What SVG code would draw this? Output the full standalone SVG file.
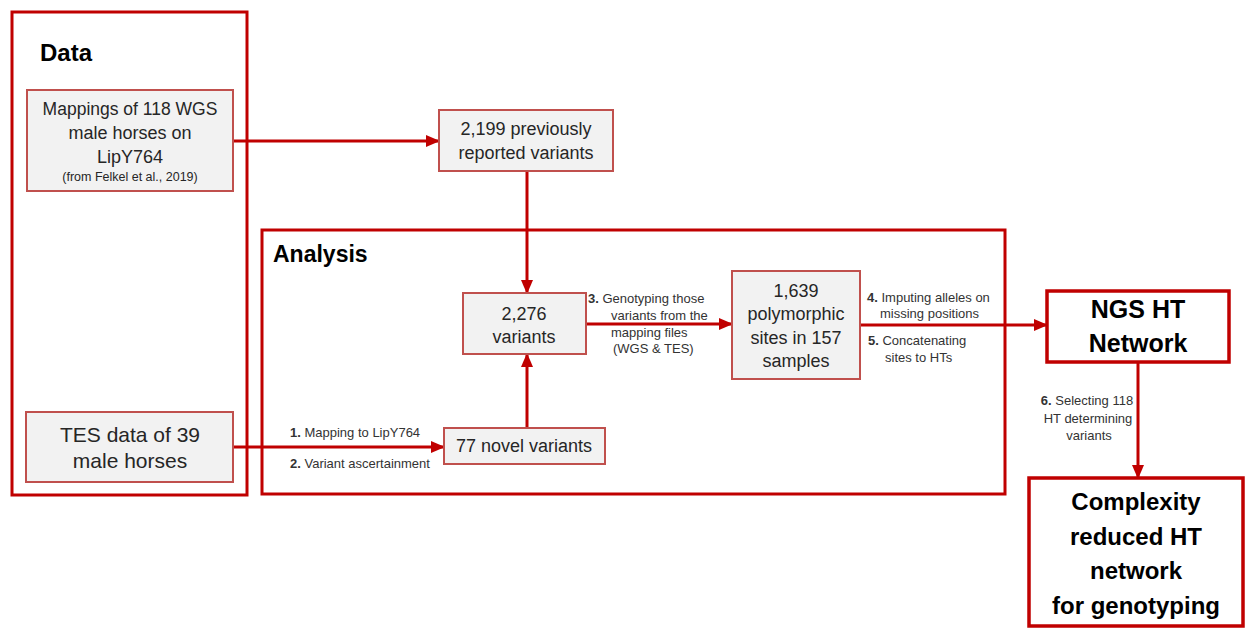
<svg xmlns="http://www.w3.org/2000/svg" width="1245" height="628" viewBox="0 0 1245 628">
<defs>
<style>
.frame{fill:#fff;stroke:#c00000;stroke-width:3}
.node{fill:#f2f2f2;stroke:#c0504d;stroke-width:2}
.big{fill:#fff;stroke:#c00000;stroke-width:3.5}
.t{font-family:"Liberation Sans",Arial,sans-serif;font-size:18px;fill:#262626;text-anchor:middle}
.h{font-family:"Liberation Sans",Arial,sans-serif;font-weight:bold;fill:#000}
.lb{font-family:"Liberation Sans",Arial,sans-serif;font-size:13px;fill:#333}
.lb tspan.n{font-weight:bold}
.c{fill:none;stroke:#c00000;stroke-width:3}
</style>
<marker id="ah" markerUnits="userSpaceOnUse" markerWidth="14" markerHeight="14" viewBox="0 0 14 14" refX="13" refY="7" orient="auto">
<path d="M0,1 L14,7 L0,13 z" fill="#c00000"/>
</marker>
</defs>
<rect width="1245" height="628" fill="#fff"/>

<g id="data-frame">
<rect class="frame" x="12" y="12" width="235" height="483"/>
<text class="h" x="40" y="61" font-size="24">Data</text>
</g>
<g id="analysis-frame">
<rect class="frame" x="262" y="230" width="743" height="264"/>
<text class="h" x="273" y="262" font-size="23">Analysis</text>
</g>

<g id="connectors">
<line class="c" x1="233" y1="141" x2="439" y2="141" marker-end="url(#ah)"/>
<line class="c" x1="527" y1="171" x2="527" y2="293" marker-end="url(#ah)"/>
<line class="c" x1="527" y1="428" x2="527" y2="354" marker-end="url(#ah)"/>
<line class="c" x1="233" y1="447" x2="444" y2="447" marker-end="url(#ah)"/>
<line class="c" x1="586" y1="324" x2="732" y2="324" marker-end="url(#ah)"/>
<line class="c" x1="860" y1="325" x2="1047" y2="325" marker-end="url(#ah)"/>
<line class="c" x1="1138" y1="362" x2="1138" y2="478" marker-end="url(#ah)"/>
<text class="lb" x="290" y="437"><tspan class="n">1.</tspan> Mapping to LipY764</text>
<text class="lb" x="290" y="468"><tspan class="n">2.</tspan> Variant ascertainment</text>
<text class="lb" x="588" y="303"><tspan class="n">3.</tspan> Genotyping those</text>
<text class="lb" x="611" y="320">variants from the</text>
<text class="lb" x="611" y="337">mapping files</text>
<text class="lb" x="613" y="353">(WGS &amp; TES)</text>
<text class="lb" x="867" y="302"><tspan class="n">4.</tspan> Imputing alleles on</text>
<text class="lb" x="880" y="318">missing positions</text>
<text class="lb" x="868" y="345"><tspan class="n">5.</tspan> Concatenating</text>
<text class="lb" x="885" y="362">sites to HTs</text>
<text class="lb" x="1087" y="405" text-anchor="middle"><tspan class="n">6.</tspan> Selecting 118</text>
<text class="lb" x="1088" y="423" text-anchor="middle">HT determining</text>
<text class="lb" x="1089" y="440" text-anchor="middle">variants</text>
</g>

<g id="mappings">
<rect class="node" x="27" y="90" width="206" height="101"/>
<text class="t" x="130" y="115" style="font-size:17.5px">Mappings of 118 WGS</text>
<text class="t" x="130" y="139">male horses on</text>
<text class="t" x="130" y="163">LipY764</text>
<text class="t" x="130" y="181" style="font-size:12.5px">(from Felkel et al., 2019)</text>
</g>
<g id="tes">
<rect class="node" x="26" y="412" width="207" height="70"/>
<text class="t" x="130" y="442" style="font-size:21px">TES data of 39</text>
<text class="t" x="130" y="468" style="font-size:21px">male horses</text>
</g>
<g id="prev-variants">
<rect class="node" x="439" y="110" width="174" height="61"/>
<text class="t" x="526" y="135">2,199 previously</text>
<text class="t" x="526" y="159">reported variants</text>
</g>
<g id="variants-2276">
<rect class="node" x="463" y="293" width="123" height="61"/>
<text class="t" x="524" y="320">2,276</text>
<text class="t" x="524" y="343">variants</text>
</g>
<g id="novel-variants">
<rect class="node" x="444" y="428" width="161" height="36"/>
<text class="t" x="524" y="452">77 novel variants</text>
</g>
<g id="polymorphic">
<rect class="node" x="732" y="271" width="128" height="108"/>
<text class="t" x="796" y="297">1,639</text>
<text class="t" x="796" y="320">polymorphic</text>
<text class="t" x="796" y="344">sites in 157</text>
<text class="t" x="796" y="367">samples</text>
</g>
<g id="ngs">
<rect class="big" x="1047" y="291" width="182" height="71"/>
<text class="h" x="1138" y="318" font-size="25" text-anchor="middle">NGS HT</text>
<text class="h" x="1138" y="352" font-size="25" text-anchor="middle">Network</text>
</g>
<g id="complexity">
<rect class="big" x="1029" y="478" width="214" height="148"/>
<text class="h" x="1136" y="510" font-size="24" text-anchor="middle">Complexity</text>
<text class="h" x="1136" y="545" font-size="24" text-anchor="middle">reduced HT</text>
<text class="h" x="1136" y="579" font-size="24" text-anchor="middle">network</text>
<text class="h" x="1136" y="614" font-size="24" text-anchor="middle">for genotyping</text>
</g>
</svg>
